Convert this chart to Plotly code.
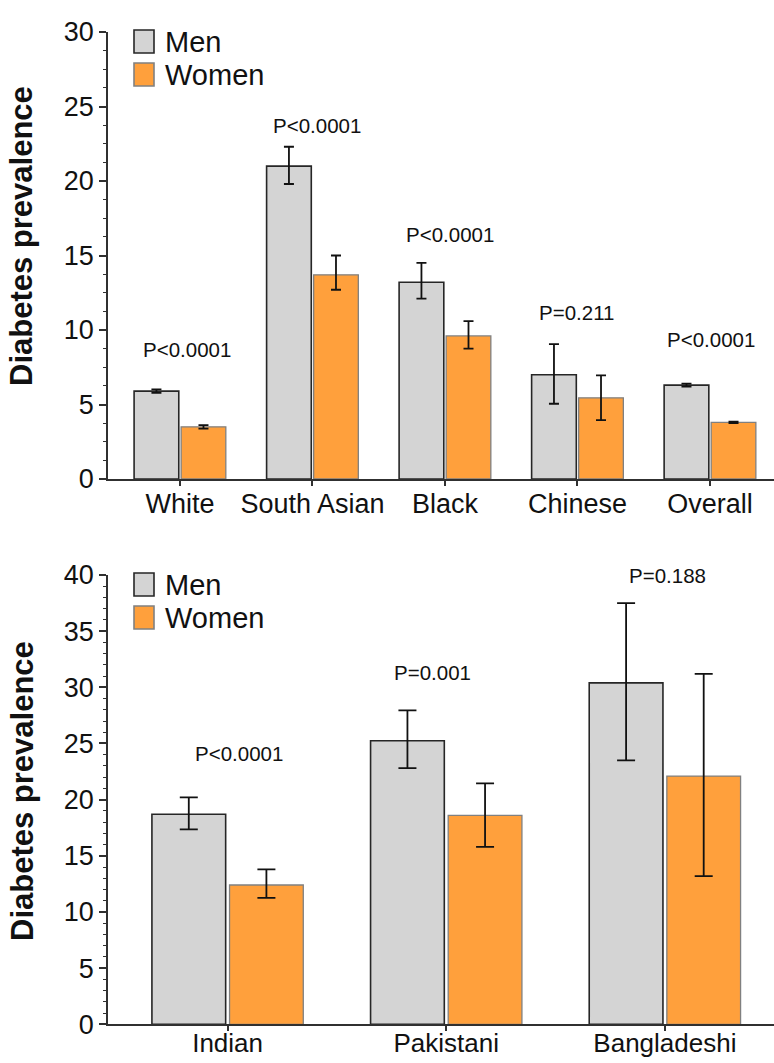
import plotly.graph_objects as go

# Panel A: diabetes prevalence by ethnic group
groups_a = ["White", "South Asian", "Black", "Chinese", "Overall"]
men_a = [5.9, 21.0, 13.2, 7.0, 6.3]
men_a_hi = [0.12, 1.3, 1.3, 2.05, 0.1]
men_a_lo = [0.12, 1.2, 1.1, 1.95, 0.1]
women_a = [3.5, 13.7, 9.6, 5.45, 3.8]
women_a_hi = [0.12, 1.3, 1.0, 1.5, 0.05]
women_a_lo = [0.12, 1.0, 0.85, 1.5, 0.05]
pvals_a = ["P<0.0001", "P<0.0001", "P<0.0001", "P=0.211", "P<0.0001"]
pval_y_a = [8.66, 23.7, 16.4, 11.2, 9.33]

# Panel B: South Asian subgroups
groups_b = ["Indian", "Pakistani", "Bangladeshi"]
men_b = [18.7, 25.25, 30.4]
men_b_hi = [1.5, 2.7, 7.1]
men_b_lo = [1.35, 2.45, 6.9]
women_b = [12.4, 18.6, 22.1]
women_b_hi = [1.4, 2.85, 9.1]
women_b_lo = [1.15, 2.8, 8.9]
pvals_b = ["P<0.0001", "P=0.001", "P=0.188"]
pval_y_b = [24.07, 31.3, 40.0]

W, H = 774, 1063
FONT = "Liberation Sans, Arial, sans-serif"
MEN_FILL, MEN_LINE = "#d4d4d4", "#262626"
WOMEN_FILL, WOMEN_LINE = "#ffa03c", "#808080"
AXIS = "#303030"


def bar(x, y, hi, lo, fill, line, lw, xa, ya, cap, name):
    return go.Bar(
        x=x, y=y, name=name, xaxis=xa, yaxis=ya, showlegend=False,
        offsetgroup=name,
        marker=dict(color=fill, line=dict(color=line, width=lw)),
        error_y=dict(type="data", symmetric=False, array=hi, arrayminus=lo,
                     color="#111111", thickness=1.8, width=cap),
    )


fig = go.Figure()
fig.add_trace(bar(groups_a, men_a, men_a_hi, men_a_lo, MEN_FILL, MEN_LINE, 1.6, "x", "y", 5, "Men"))
fig.add_trace(bar(groups_a, women_a, women_a_hi, women_a_lo, WOMEN_FILL, WOMEN_LINE, 1.3, "x", "y", 5, "Women"))
fig.add_trace(bar(groups_b, men_b, men_b_hi, men_b_lo, MEN_FILL, MEN_LINE, 1.6, "x2", "y2", 9, "Men"))
fig.add_trace(bar(groups_b, women_b, women_b_hi, women_b_lo, WOMEN_FILL, WOMEN_LINE, 1.3, "x2", "y2", 9, "Women"))


def px_x(p):
    return p / W


def px_y(p):
    return 1 - p / H


xdom = [px_x(108), 1.0]
ydom_a = [px_y(479), px_y(32)]
ydom_b = [px_y(1024.3), px_y(575)]

xcommon = dict(
    type="category", showline=True, linecolor=AXIS, linewidth=1.8,
    ticks="outside", ticklen=5, tickwidth=1.5, tickcolor=AXIS,
    showgrid=False, zeroline=False, fixedrange=True, automargin=False,
)
ycommon = dict(
    showline=True, linecolor=AXIS, linewidth=1.8,
    ticks="outside", ticklen=7, tickwidth=1.5, tickcolor=AXIS,
    showgrid=False, zeroline=False, fixedrange=True, dtick=5, automargin=False,
    tickfont=dict(family=FONT, size=27, color="#111111"),
)

annotations = []
shapes = []

for i, (txt, yv) in enumerate(zip(pvals_a, pval_y_a)):
    annotations.append(dict(x=groups_a[i], y=yv, xref="x", yref="y", text=txt,
                            showarrow=False, xshift=[7, 5, 5, -1, 1][i],
                            font=dict(family=FONT, size=20.5, color="#111111")))
for i, (txt, yv) in enumerate(zip(pvals_b, pval_y_b)):
    annotations.append(dict(x=groups_b[i], y=yv, xref="x2", yref="y2", text=txt,
                            showarrow=False, xshift=[11, -14, 3][i],
                            font=dict(family=FONT, size=20.5, color="#111111")))

# Axis titles
for yc in (236, 791):
    annotations.append(dict(x=px_x(22), y=px_y(yc), xref="paper", yref="paper",
                            text="<b>Diabetes prevalence</b>", textangle=-90,
                            showarrow=False, xanchor="center", yanchor="middle",
                            font=dict(family=FONT, size=31, color="#111111")))

# Legend boxes for each panel
for top in (30, 573):
    for j, (label, fill, line) in enumerate([("Men", MEN_FILL, MEN_LINE),
                                              ("Women", WOMEN_FILL, WOMEN_LINE)]):
        y0 = top + j * 33
        shapes.append(dict(type="rect", xref="paper", yref="paper",
                           x0=px_x(134), x1=px_x(154), y0=px_y(y0 + 23), y1=px_y(y0),
                           fillcolor=fill, line=dict(color=line, width=1.6)))
        annotations.append(dict(x=px_x(163), y=px_y(y0 + 12), xref="paper", yref="paper",
                                text=label, showarrow=False, xanchor="left", yanchor="middle",
                                font=dict(family=FONT, size=29, color="#111111")))

fig.update_layout(
    width=W, height=H, margin=dict(l=0, r=0, t=0, b=0),
    paper_bgcolor="white", plot_bgcolor="white",
    barmode="group", bargap=0.29, bargroupgap=0.05,
    showlegend=False,
    xaxis=dict(xcommon, domain=xdom, anchor="y", range=[-0.543, 4.483],
               ticklabelstandoff=-5,
               tickfont=dict(family=FONT, size=27, color="#111111")),
    yaxis=dict(ycommon, domain=ydom_a, anchor="x", range=[0, 30],
               minor=dict(dtick=1.25, ticks="outside", ticklen=3, tickwidth=1.2, tickcolor=AXIS)),
    xaxis2=dict(xcommon, domain=xdom, anchor="y2", range=[-0.547, 2.499],
                ticklabelstandoff=-10,
                tickfont=dict(family=FONT, size=26, color="#111111")),
    yaxis2=dict(ycommon, domain=ydom_b, anchor="x2", range=[0, 40],
                minor=dict(dtick=1, ticks="outside", ticklen=3, tickwidth=1.2, tickcolor=AXIS)),
    annotations=annotations,
    shapes=shapes,
)

fig.write_html("out.html")
